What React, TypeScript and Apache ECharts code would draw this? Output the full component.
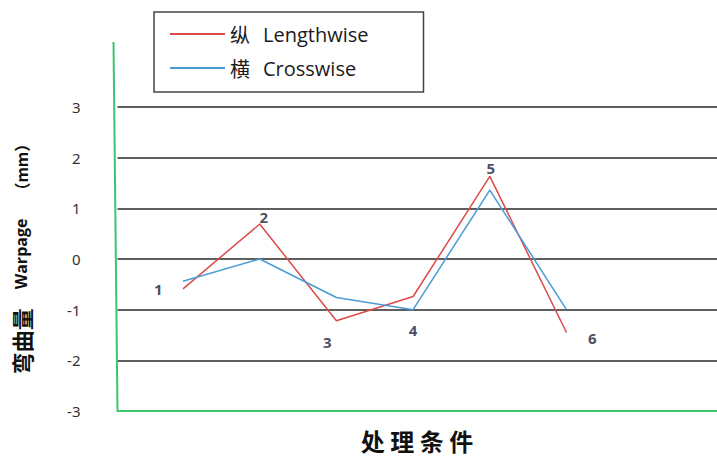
import React, { useEffect, useRef } from "react";
import * as echarts from "echarts";

// ---- data ----
const conditions = [1, 2, 3, 4, 5, 6];
const lengthwise = [-0.59, 0.69, -1.22, -0.74, 1.63, -1.45];
const crosswise = [-0.44, 0.0, -0.76, -1.0, 1.36, -1.0];
const seriesNames = ["纵 Lengthwise", "横 Crosswise"];
const pointLabels = ["1", "2", "3", "4", "5", "6"];
const labelAnchor = ["L", "L", "L", "C", "L", "L"];
const yAxisTitle = ["弯曲量", "Warpage", "（mm）"];
const xAxisTitle = "处 理 条 件";

// ---- styles ----
const RED = "#dc4a4a";
const BLUE = "#4a9bd6";
const GREEN = "#3cc46e";
const labelPlacement: any[] = [
  { position: "left", distance: 20, offset: [0, 0] },
  { position: "top", distance: 0, offset: [4, 1] },
  { position: "bottom", distance: 13, offset: [-9, 0] },
  { position: "bottom", distance: 12, offset: [0, 0] },
  { position: "top", distance: 0, offset: [1, 0] },
  { position: "right", distance: 21, offset: [0, 6] },
];

export default function App() {
  const ref = useRef<HTMLDivElement>(null);
  useEffect(() => {
    if (!ref.current) return;
    const chart = echarts.init(ref.current, undefined, { renderer: "svg" });
    const option: any = {
      animation: false,
      backgroundColor: "#ffffff",
      grid: { left: 117.5, right: 0, top: 107, bottom: 46 },
      xAxis: {
        type: "value",
        min: 0.146,
        max: 7.962,
        z: 5,
        axisLine: { show: true, onZero: false, lineStyle: { color: GREEN, width: 2 } },
        axisTick: { show: false },
        axisLabel: { show: false },
        splitLine: { show: false },
      },
      yAxis: {
        type: "value",
        min: -3,
        max: 3,
        interval: 1,
        axisLine: { show: false },
        axisTick: { show: false },
        axisLabel: { margin: 37, fontSize: 15, color: "#333", fontFamily: "Noto Sans" },
        splitLine: { show: true, lineStyle: { color: "#2a2a2a", width: 1.5 } },
      },
      legend: {
        data: seriesNames,
        orient: "vertical",
        left: 154,
        top: 12,
        itemWidth: 55,
        itemHeight: 14,
        itemGap: 14,
        padding: [12, 55, 14, 15],
        borderColor: "#444",
        borderWidth: 1.5,
        itemStyle: { opacity: 0 },
        formatter: (name: string) => {
          const parts = name.split(" ");
          return `{cn|${parts[0]}}{en|${parts[1]}}`;
        },
        textStyle: {
          rich: {
            cn: { fontSize: 20, fontFamily: "Noto Sans CJK SC", color: "#1a1a1a" },
            en: { fontSize: 20, fontFamily: "Open Sans", color: "#1a1a1a", padding: [0, 0, 0, 13] },
          },
        },
      },
      series: [
        {
          name: seriesNames[0],
          type: "line",
          symbol: "none",
          data: conditions.map((c, i) => [c, lengthwise[i]]),
          lineStyle: { color: RED, width: 1.5 },
          itemStyle: { color: RED },
        },
        {
          name: seriesNames[1],
          type: "line",
          symbol: "none",
          data: conditions.map((c, i) => [c, crosswise[i]]),
          lineStyle: { color: BLUE, width: 1.5 },
          itemStyle: { color: BLUE },
        },
        {
          name: "labels",
          type: "scatter",
          silent: true,
          symbolSize: 1,
          itemStyle: { color: "rgba(0,0,0,0)" },
          data: conditions.map((c, i) => ({
            value: [c, labelAnchor[i] === "C" ? crosswise[i] : lengthwise[i]],
            label: {
              show: true,
              formatter: pointLabels[i],
              position: labelPlacement[i].position,
              distance: labelPlacement[i].distance,
              offset: labelPlacement[i].offset,
              fontSize: 15,
              fontWeight: "bold",
              color: "#1c1c3c",
              fontFamily: "Noto Sans",
            },
          })),
        },
      ],
      graphic: [
        {
          type: "line",
          z: 10,
          shape: { x1: 113.5, y1: 42, x2: 117.5, y2: 411 },
          style: { stroke: GREEN, lineWidth: 2 },
        },
        {
          type: "text",
          x: 21,
          y: 255,
          rotation: Math.PI / 2,
          style: {
            text: `{a|${yAxisTitle[0]}}{b|${yAxisTitle[1]}}{c|${yAxisTitle[2]}}`,
            align: "center",
            verticalAlign: "middle",
            rich: {
              a: { fontSize: 22, fontWeight: "bold", fontFamily: "Noto Sans CJK SC", fill: "#111", verticalAlign: "middle" },
              b: { fontSize: 16, fontWeight: "bold", fontFamily: "Open Sans", fill: "#111", padding: [0, 20, 0, 19], verticalAlign: "middle" },
              c: { fontSize: 16, fontWeight: "bold", fontFamily: "Noto Sans CJK SC", fill: "#111", verticalAlign: "middle" },
            },
          },
        },
        {
          type: "text",
          x: 417,
          y: 440,
          style: {
            text: xAxisTitle,
            align: "center",
            verticalAlign: "middle",
            fontSize: 24,
            fontWeight: "bold",
            fontFamily: "Noto Sans CJK SC",
            fill: "#111",
          },
        },
      ],
    };
    chart.setOption(option);
    return () => chart.dispose();
  }, []);
  return (
    <div
      ref={ref}
      style={{ position: "fixed", left: 0, top: 0, width: 717, height: 457, background: "#fff" }}
    />
  );
}
